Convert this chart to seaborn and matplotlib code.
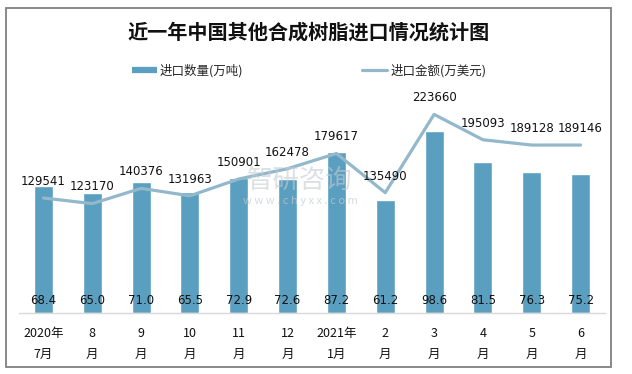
import numpy as np
import pandas as pd
import matplotlib
matplotlib.use('Agg')
import matplotlib.pyplot as plt
from matplotlib.lines import Line2D
from matplotlib.patches import Rectangle
import seaborn as sns

# ── Data ──────────────────────────────────────────────────────────────
months = ['2020年\n7月', '8\n月', '9\n月', '10\n月', '11\n月', '12\n月',
          '2021年\n1月', '2\n月', '3\n月', '4\n月', '5\n月', '6\n月']
qty    = [68.4, 65.0, 71.0, 65.5, 72.9, 72.6, 87.2, 61.2, 98.6, 81.5, 76.3, 75.2]
amount = [129541, 123170, 140376, 131963, 150901, 162478,
          179617, 135490, 223660, 195093, 189128, 189146]

title      = '近一年中国其他合成树脂进口情况统计图'
qty_name   = '进口数量(万吨)'
amt_name   = '进口金额(万美元)'

BAR_COLOR  = '#5a9ec0'
LINE_COLOR = '#93b8cb'

df = pd.DataFrame({'month': months, 'qty': qty, 'amount': amount})
df['pos'] = np.arange(len(df))

sns.set_theme(style='white')
plt.rcParams['font.family'] = ['Noto Sans CJK SC', 'DejaVu Sans']

W, H = 632, 374
fig = plt.figure(figsize=(W / 100, H / 100), dpi=100)

# plot area in pixels: x 19..605, y 91..313
ax = fig.add_axes([19 / W, 1 - 313 / H, (605 - 19) / W, (313 - 91) / H])
sns.barplot(data=df, x='pos', y='qty', color=BAR_COLOR, width=0.39,
            saturation=1, ax=ax)
ax.set_ylim(0, 120)
ax.set_xlim(-0.5, 11.5)

ax2 = ax.twinx()
sns.lineplot(data=df, x='pos', y='amount', color=LINE_COLOR, lw=2.3, ax=ax2)
ax2.set_ylim(0, 250000)
ax2.set_xlim(-0.5, 11.5)

# ── Labels ───────────────────────────────────────────────────────────
for i, v in enumerate(qty):
    ax.text(i, 7, f'{v:.1f}', ha='center', va='center', fontsize=8.5,
            family='DejaVu Sans', color='#111111')
for i, v in enumerate(amount):
    ax2.annotate(str(v), (i, v), xytext=(0, 12), textcoords='offset points',
                 ha='center', va='center', fontsize=8.5, family='DejaVu Sans',
                 color='#111111')

# watermark
fig.text(300 / W, 1 - 180 / H, '智研咨询', fontsize=19, color='#c4ccd2',
         alpha=0.6, ha='center', va='center')
fig.text(300 / W, 1 - 201 / H, 'w w w . c h y x x . c o m', fontsize=8,
         color='#c4ccd2', alpha=0.7, ha='center', va='center')

# ── Axes styling ─────────────────────────────────────────────────────
for a in (ax, ax2):
    for s in a.spines.values():
        s.set_visible(False)
    a.set_yticks([])
    a.set_ylabel('')
    a.set_xlabel('')
    a.grid(False)
ax.spines['bottom'].set_visible(True)
ax.spines['bottom'].set_color('#d9d9d9')
ax.spines['bottom'].set_linewidth(1)
ax.set_xticks(range(len(months)))
ax.set_xticklabels(months, fontsize=9, color='#111111')
ax.tick_params(axis='x', length=0, pad=10)
for lbl in ax.get_xticklabels():
    lbl.set_linespacing(1.85)
ax2.tick_params(axis='x', length=0, labelbottom=False)

# ── Title & legend ───────────────────────────────────────────────────
fig.text(309 / W, 1 - 32 / H, title, fontsize=14.5, weight='bold',
         ha='center', va='center', color='#111111')

handles = [Line2D([], [], color=BAR_COLOR, lw=4.5, solid_capstyle='butt'),
           Line2D([], [], color=LINE_COLOR, lw=2.3)]
fig.legend(handles, [qty_name, amt_name], ncol=2, loc='center',
           bbox_to_anchor=(309 / W, 1 - 71 / H), frameon=False,
           fontsize=9, handlelength=2.0, handletextpad=0.25,
           columnspacing=9.5)

# outer frame
fig.patches.append(Rectangle((6 / W, 1 - 367 / H), (611 - 6) / W, (367 - 8) / H,
                             transform=fig.transFigure, fill=False,
                             edgecolor='#808080', lw=1.3))

fig.savefig('out.png', dpi=100)
plt.close(fig)
